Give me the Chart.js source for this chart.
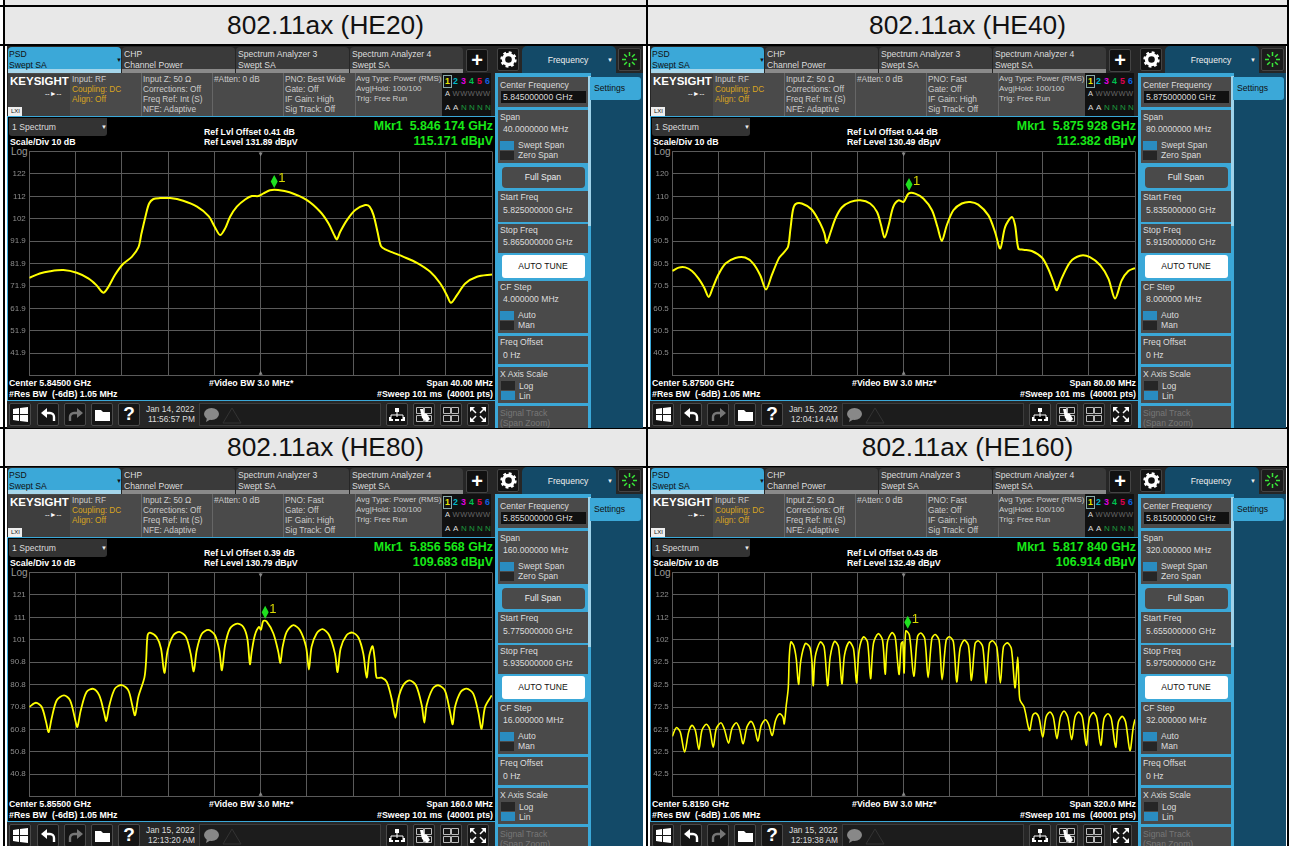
<!DOCTYPE html>
<html>
<head>
<meta charset="utf-8">
<title>802.11ax spectrum</title>
<script src="https://cdn.jsdelivr.net/npm/chart.js@4/dist/chart.umd.min.js"></script>
<style>
  html, body { margin: 0; background: #fff; overflow: hidden; }
  #page { position: relative; width: 1289px; height: 846px; overflow: hidden; font-family: "Liberation Sans", Arial, sans-serif; }
  #page div, #page canvas, #page svg { position: absolute; }
  .t { white-space: pre; line-height: 12px; color: #ddd; }
  .b { font-weight: bold; color: #fff; }
  .title { font-size: 26.3px; color: #111; text-align: center; line-height: 37px; background: #e8e8e8; }
</style>
</head>
<body>
<div id="page"></div>
<script>
const titles = ["802.11ax (HE20)", "802.11ax (HE40)", "802.11ax (HE80)", "802.11ax (HE160)"];
const centerFreq = ["5.845000000 GHz", "5.875000000 GHz", "5.855000000 GHz", "5.815000000 GHz"];
const spanFreq = ["40.0000000 MHz", "80.0000000 MHz", "160.000000 MHz", "320.000000 MHz"];
const startFreq = ["5.825000000 GHz", "5.835000000 GHz", "5.775000000 GHz", "5.655000000 GHz"];
const stopFreq = ["5.865000000 GHz", "5.915000000 GHz", "5.935000000 GHz", "5.975000000 GHz"];
const cfStep = ["4.000000 MHz", "8.000000 MHz", "16.000000 MHz", "32.000000 MHz"];
const refOffset = ["0.41", "0.44", "0.39", "0.43"];
const refLevel = [131.89, 130.49, 130.79, 132.49];
const markerText = ["5.846 174 GHz", "5.875 928 GHz", "5.856 568 GHz", "5.817 840 GHz"];
const markerFreq = [5846.174, 5875.928, 5856.568, 5817.84];
const markerLevel = [115.171, 112.382, 109.683, 106.914];
const centerText = ["Center 5.84500 GHz", "Center 5.87500 GHz", "Center 5.85500 GHz", "Center 5.8150 GHz"];
const spanText = ["Span 40.00 MHz", "Span 80.00 MHz", "Span 160.0 MHz", "Span 320.0 MHz"];
const dateText = ["Jan 14, 2022", "Jan 15, 2022", "Jan 15, 2022", "Jan 15, 2022"];
const timeText = ["11:56:57 PM", "12:04:14 AM", "12:13:20 AM", "12:19:38 AM"];
const pnoText = ["PNO: Best Wide", "PNO: Fast", "PNO: Fast", "PNO: Fast"];

const xMin = [5825, 5835, 5775, 5655];
const xMax = [5865, 5915, 5935, 5975];
const traceWidth = [2, 2, 1.8, 1.6];
const yLabels = [
  ["", "122", "112", "102", "91.9", "81.9", "71.9", "61.9", "51.9", "41.9", ""],
  ["", "120", "110", "100", "90.5", "80.5", "70.5", "60.5", "50.5", "40.5", ""],
  ["", "121", "111", "101", "90.8", "80.8", "70.8", "60.8", "50.8", "40.8", ""],
  ["", "122", "112", "102", "92.5", "82.5", "72.5", "62.5", "52.5", "42.5", ""]
];

// traces: frequency in MHz, level in dBuV
const he20Freq = [5825, 5825.9, 5826.8, 5827.95, 5829.1, 5830.1, 5830.8, 5831.4, 5831.84, 5832.4, 5833.1, 5833.86, 5834.43, 5834.7, 5835.07, 5835.36, 5835.73, 5836.3, 5837.17, 5838.3, 5839.5, 5840.5, 5841.06, 5841.5, 5841.93, 5842.36, 5842.94, 5843.66, 5844.24, 5844.8, 5845.25, 5845.8, 5846.5, 5847.5, 5849, 5850.15, 5850.87, 5851.36, 5851.59, 5851.88, 5852.46, 5853.18, 5854.04, 5854.42, 5854.76, 5855.1, 5855.4, 5855.77, 5856.49, 5857.36, 5858.51, 5859.66, 5860.53, 5861.1, 5861.45, 5861.97, 5862.69, 5863.7, 5865];
const he20Level = [75.5, 77.5, 78.5, 79, 77.8, 75.3, 72.3, 68.9, 71.5, 76.8, 81.7, 84.9, 89.1, 95.4, 103.5, 108.7, 110.7, 111.1, 111.1, 109.9, 107.3, 103.1, 98, 94.6, 97.6, 102.8, 107.3, 110.5, 112, 112, 113.2, 114.6, 114.7, 113.7, 110.2, 105, 99.8, 94.6, 92.7, 96.1, 101.3, 105.8, 108, 107.3, 103.5, 96.1, 89.7, 88.2, 86.7, 84.9, 82.2, 78.2, 73, 67.8, 64.4, 67.8, 73, 76, 77];

const he40Freq = [5835, 5836.1, 5837.25, 5838.4, 5839.55, 5840.5, 5841.3, 5842, 5843, 5844.2, 5845.9, 5847.6, 5849, 5850.2, 5851.2, 5852.2, 5853.4, 5854.2, 5855, 5855.4, 5855.85, 5856.3, 5857.4, 5859.1, 5860.6, 5861.3, 5861.7, 5862.3, 5863.2, 5864.3, 5865.8, 5867.5, 5869.2, 5870.4, 5871.1, 5871.7, 5872.4, 5873.2, 5874.1, 5875, 5875.84, 5877, 5878.4, 5879.9, 5880.85, 5881.6, 5882.46, 5883.6, 5885.05, 5886.5, 5887.9, 5889.66, 5890.8, 5891.7, 5892.54, 5893.7, 5894.27, 5894.85, 5895.7, 5897.15, 5898.9, 5900, 5900.9, 5901.47, 5902.3, 5903.8, 5905.5, 5907.2, 5909, 5910.4, 5911.55, 5912.7, 5913.85, 5915];
const he40Level = [77.2, 78.7, 78.8, 77.2, 73.8, 69.8, 65.6, 69.8, 75.7, 80.5, 83, 83.2, 80.5, 75.3, 68.9, 75.3, 82.7, 85.2, 87.9, 95.4, 104.3, 107, 107.3, 104.6, 98.3, 93.9, 89.7, 93.9, 100.6, 105.5, 108, 108.7, 107.3, 103.5, 97.6, 92.1, 97.6, 105.8, 108.7, 108, 111.7, 111.7, 109.5, 104.3, 96.8, 90.6, 97.6, 104.3, 107.3, 108, 106.8, 102, 94.6, 87.2, 96.8, 101.3, 97.6, 87.2, 86.7, 86.1, 83.2, 78.2, 72.3, 68.6, 73.8, 81.2, 84, 83.4, 79.7, 73.8, 64.9, 73, 77.2, 78.5];

const he80Freq = [5775, 5777.3, 5779.3, 5780.8, 5781.7, 5782.7, 5784.5, 5787, 5789.1, 5790.8, 5791.6, 5792.8, 5794.8, 5797.15, 5799.2, 5800.8, 5801.6, 5802.7, 5804.6, 5807, 5809.25, 5810.6, 5811.55, 5812.7, 5814.8, 5815.4, 5815.9, 5816.75, 5819, 5820.55, 5821.7, 5822.85, 5824.8, 5826.9, 5829.2, 5830.8, 5831.85, 5832.9, 5834.6, 5836.9, 5839.2, 5840.7, 5841.6, 5842.7, 5844.4, 5846.9, 5849, 5850.4, 5851.3, 5851.9, 5853, 5854.4, 5855.1, 5855.9, 5857.1, 5859.4, 5861.1, 5861.8, 5862.6, 5864, 5866.3, 5868.6, 5870.7, 5871.7, 5872.6, 5874.35, 5876.4, 5878.7, 5880.7, 5881.6, 5882.65, 5884.7, 5886.7, 5888.8, 5890.5, 5891.65, 5892.6, 5893.7, 5894.5, 5895.1, 5896.8, 5898.6, 5900.3, 5901.6, 5902.6, 5904.3, 5906.4, 5908.7, 5910.7, 5911.6, 5912.4, 5914.5, 5916.4, 5918.7, 5920.5, 5921.4, 5922.2, 5924.15, 5926.2, 5928.5, 5930.25, 5931.4, 5932.6, 5934.9];
const he80Level = [70.8, 72.7, 70.8, 64.1, 59.6, 65.6, 73.8, 76, 73.8, 65.6, 61.9, 69.3, 77.5, 78.9, 76, 68.6, 64.6, 71.6, 79, 80.6, 78.2, 71.6, 67.1, 75.3, 83.9, 91.6, 102.8, 104, 102, 96.9, 86, 96.1, 102.8, 104.3, 102, 94.6, 86.7, 96.1, 103.3, 105.2, 102.8, 96.1, 87.2, 98.3, 105.8, 108, 106.5, 101.3, 89.9, 95.4, 102.8, 106.5, 105.3, 109.2, 108.9, 103.6, 95.4, 90.5, 97.6, 104.3, 107.3, 105, 97.6, 87.5, 97.6, 103.6, 105.5, 102.8, 94.6, 86.4, 96.9, 102.8, 104, 101.8, 94.6, 83.9, 93.9, 97.9, 91.6, 83.9, 83.9, 82, 74.5, 66, 74.5, 80.5, 82.7, 80.5, 71.6, 63.8, 71.6, 79, 80.5, 78.2, 68.6, 63.1, 70.8, 77.5, 79, 76.8, 68.6, 61.1, 70.8, 76];

const he160Freq = [5655, 5657.8, 5660.5, 5663.5, 5666.3, 5668.6, 5670.9, 5673.4, 5675.5, 5678.5, 5680.8, 5683.3, 5685.4, 5688.6, 5690.9, 5693.9, 5696.2, 5699.2, 5701.5, 5704, 5706.6, 5709.4, 5711.7, 5714.2, 5716.5, 5719.3, 5721.6, 5724.1, 5726.4, 5729.2, 5731.5, 5732.4, 5733.8, 5735.2, 5735.9, 5737, 5738.9, 5740.7, 5742.3, 5743.9, 5747, 5750, 5751.5, 5752.5, 5753.8, 5757.3, 5760, 5762.4, 5764.2, 5767.2, 5769.95, 5772.3, 5774.1, 5777.3, 5780.3, 5782.4, 5784.2, 5787.2, 5790, 5792.1, 5794.1, 5797.4, 5800.4, 5802.2, 5803.8, 5806.9, 5809.1, 5810.7, 5811.9, 5813.3, 5814.4, 5815.3, 5816.5, 5819, 5822, 5824.55, 5826.85, 5829.6, 5831.9, 5834.5, 5836.8, 5839.5, 5841.6, 5844.4, 5846.7, 5849.4, 5851.7, 5854, 5856.8, 5859.8, 5861.9, 5864.4, 5866.7, 5869.7, 5872, 5874.3, 5876.6, 5879.4, 5881.9, 5884, 5886.75, 5889.5, 5892, 5893.9, 5894.8, 5895.5, 5898.3, 5902, 5904.3, 5906.3, 5908.6, 5911.2, 5913.5, 5916.2, 5918.5, 5921, 5923.4, 5925.9, 5928.5, 5931.2, 5933.5, 5936, 5938.6, 5941.3, 5943.4, 5946.2, 5948.5, 5951.3, 5953.6, 5956.3, 5958.6, 5961.6, 5963.5, 5966.2, 5968.5, 5971.5, 5973.8, 5975];
const he160Level = [59.4, 63.3, 61.3, 52.4, 61.3, 64.3, 62.1, 53.6, 62.1, 64.8, 62.8, 54.6, 62.8, 65.5, 62.8, 56.4, 62.8, 65.5, 62.8, 56.1, 63.6, 66.1, 63.6, 57.3, 64.3, 66.8, 64.8, 59.8, 66.5, 69.5, 68, 65, 73.2, 81.1, 94.8, 101.5, 100, 94.1, 82.6, 93.3, 100.8, 99.3, 93.3, 82, 94.8, 101.5, 99.3, 82, 94.8, 101.8, 99.3, 82.9, 95.6, 101.5, 98.5, 83.2, 97.8, 103.8, 101.5, 85.1, 100.8, 105.2, 102.3, 87.1, 101.5, 105.7, 103.8, 93.3, 87.1, 100.8, 101.5, 87.7, 106.4, 104.5, 86.2, 103.8, 105.5, 103, 85.6, 103, 104.8, 102.3, 84.7, 102.3, 103.8, 101.5, 83.7, 98.5, 102.3, 100, 84.4, 100.8, 102, 99.3, 83.2, 100.8, 102, 99.3, 83.2, 99.3, 101.1, 98.5, 81.1, 94.8, 81.1, 75.5, 72.5, 62.1, 68.8, 69.8, 67.7, 59.1, 68, 70.3, 68, 58.4, 68, 70.7, 68, 57.9, 68, 70.3, 68, 55.4, 67.3, 70, 67.7, 55.4, 67.3, 69.5, 67.3, 54.6, 65.8, 68.3, 65.8, 53.1, 63.5, 67];

const traceFreq = [he20Freq, he40Freq, he80Freq, he160Freq];
const traceLevel = [he20Level, he40Level, he80Level, he160Level];

const page = document.getElementById("page");

function box(x, y, w, h, bg, extra) {
  const d = document.createElement("div");
  d.style.cssText = `left:${x}px;top:${y}px;width:${w}px;height:${h}px;background:${bg};${extra || ""}`;
  page.appendChild(d);
  return d;
}

// y is the vertical middle of the text
function text(x, y, str, opts) {
  opts = opts || {};
  const d = document.createElement("div");
  d.className = "t" + (opts.bold ? " b" : "");
  d.textContent = str;
  const size = opts.size || (opts.bold ? 8.8 : 8.6);
  let css = `top:${y - 6}px;font-size:${size}px;`;
  if (opts.right !== undefined) css += `right:${1289 - opts.right}px;`;
  else if (opts.center !== undefined) css += `left:${opts.center - 60}px;width:120px;text-align:center;`;
  else css += `left:${x}px;`;
  if (opts.color) css += `color:${opts.color};`;
  d.style.cssText = css;
  page.appendChild(d);
}

function icon(x, y, w, h, inner) {
  const ns = "http://www.w3.org/2000/svg";
  const s = document.createElementNS(ns, "svg");
  s.setAttribute("viewBox", `0 0 ${w} ${h}`);
  s.style.cssText = `left:${x}px;top:${y}px;width:${w}px;height:${h}px;`;
  s.innerHTML = inner;
  page.appendChild(s);
}

function softkey(x, y, w, h) {
  box(x, y, w, h, "#4a4a4a");
}

function toggle(x, y, on) {
  box(x, y, 14, 9, on ? "#2a8cc0" : "#262626");
}

function drawPanel(i, ox, oy) {
  // whole panel
  box(7 + ox, 46 + oy, 636, 382, "#262626");
  box(517 + ox, 73 + oy, 126, 355, "#134a68");

  // tabs
  box(8 + ox, 47 + oy, 113, 26, "#3ba8d8", "border-radius:4px 4px 0 0;");
  box(8 + ox, 69 + oy, 113, 4, "#a5d5ea");
  text(9 + ox, 54 + oy, "PSD", { color: "#111" });
  text(9 + ox, 65 + oy, "Swept SA", { color: "#111" });
  text(116 + ox, 60 + oy, "▼", { size: 6, color: "#111" });
  const tabNames = ["CHP", "Spectrum Analyzer 3", "Spectrum Analyzer 4"];
  const tabSubs = ["Channel Power", "Swept SA", "Swept SA"];
  tabNames.forEach((name, k) => {
    const tx = 122 + k * 114;
    box(tx + ox, 47 + oy, 113, 26, "#3a3a3a", "border-radius:4px 4px 0 0;");
    box(tx + ox, 69 + oy, 113, 4, "#8a8a8a");
    text(tx + 2 + ox, 54 + oy, name);
    text(tx + 2 + ox, 65 + oy, tabSubs[k]);
  });
  box(466 + ox, 49 + oy, 22, 23, "#111", "border:1px solid #444;box-sizing:border-box;border-radius:2px;");
  text(0, 60 + oy, "+", { center: 477 + ox, size: 20, bold: true });
  box(497 + ox, 48 + oy, 22, 23, "#111", "border:1px solid #444;box-sizing:border-box;border-radius:2px;");
  icon(500 + ox, 51 + oy, 17, 17, '<circle cx="8.5" cy="8.5" r="5" fill="none" stroke="#fff" stroke-width="3.4"/><circle cx="8.5" cy="8.5" r="7" fill="none" stroke="#fff" stroke-width="2.4" stroke-dasharray="2.8 2.7"/>');
  box(522 + ox, 46 + oy, 94, 27, "#134a68", "border-radius:5px 5px 0 0;");
  text(0, 60 + oy, "Frequency", { center: 568 + ox, color: "#eee" });
  text(607 + ox, 60 + oy, "▼", { size: 6, color: "#eee" });
  box(618 + ox, 48 + oy, 23, 23, "#1c1c1c", "border:1px solid #444;box-sizing:border-box;border-radius:2px;");
  icon(621 + ox, 51 + oy, 17, 17, '<g stroke="#39e639" stroke-width="1.5"><path d="M8.5 1v4M8.5 12v4M1 8.5h4M12 8.5h4M3.2 3.2l2.8 2.8M11 11l2.8 2.8M3.2 13.8L6 11M11 6l2.8-2.8"/></g>');

  // meter header
  box(8 + ox, 73 + oy, 483, 43, "#4a4a4a");
  box(8 + ox, 74 + oy, 62, 42, "#3e3e3e");
  text(10 + ox, 81 + oy, "KEYSIGHT", { size: 11.5, bold: true });
  text(45 + ox, 94 + oy, "--►--", { size: 7, color: "#fff" });
  box(8 + ox, 107 + oy, 14, 9, "#eee");
  text(11 + ox, 111 + oy, "LXI", { size: 6, color: "#111" });
  [141, 212, 283, 355].forEach(cx => box(cx + ox, 73 + oy, 1, 43, "#666"));
  const rows = [79, 89, 99, 109];
  const hdr = 8.3;
  ["Input: RF", "Coupling: DC", "Align: Off"].forEach((s, k) => text(72 + ox, rows[k] + oy, s, { size: hdr, color: k ? "#d9a520" : "#ccc" }));
  ["Input Z: 50 Ω", "Corrections: Off", "Freq Ref: Int (S)", "NFE: Adaptive"].forEach((s, k) => text(143 + ox, rows[k] + oy, s, { size: hdr, color: "#ccc" }));
  text(214 + ox, rows[0] + oy, "#Atten: 0 dB", { size: hdr, color: "#ccc" });
  [pnoText[i], "Gate: Off", "IF Gain: High", "Sig Track: Off"].forEach((s, k) => text(285 + ox, rows[k] + oy, s, { size: hdr, color: "#ccc" }));
  ["Avg Type: Power (RMS)", "Avg|Hold: 100/100", "Trig: Free Run"].forEach((s, k) => text(356 + ox, rows[k] + oy, s, { size: 8, color: "#ccc" }));
  box(442 + ox, 73 + oy, 49, 43, "#111");
  box(443 + ox, 75 + oy, 9, 13, "#111", "border:1px solid #8aa;box-sizing:border-box;");
  const traceColors = ["#e6e600", "#00b8c8", "#e000e0", "#00c050", "#e00050", "#1060e0"];
  traceColors.forEach((c, k) => text(445 + k * 8 + ox, 81 + oy, String(k + 1), { color: c, bold: true }));
  ["A", "W", "W", "W", "W", "W"].forEach((s, k) => text(445 + k * 7.6 + ox, 94 + oy, s, { size: 7.5, color: k ? "#666" : "#ddd" }));
  ["A", "A", "N", "N", "N", "N"].forEach((s, k) => text(445 + k * 8 + ox, 108 + oy, s, { size: 8, color: k > 1 ? "#1c9c3c" : "#ddd" }));

  // display frame
  box(7 + ox, 116 + oy, 488, 285, "#000", "border:1px solid #3ba8d8;border-right:0;box-sizing:border-box;");
  box(9 + ox, 118 + oy, 98, 18, "#333", "border-radius:0 0 3px 3px;");
  text(12 + ox, 127 + oy, "1 Spectrum");
  text(101 + ox, 127 + oy, "▼", { size: 6, color: "#eee" });
  text(10 + ox, 142 + oy, "Scale/Div 10 dB", { bold: true });
  text(11 + ox, 152 + oy, "Log", { size: 10, color: "#999" });
  text(204 + ox, 132 + oy, `Ref Lvl Offset ${refOffset[i]} dB`, { bold: true });
  text(204 + ox, 142 + oy, `Ref Level ${refLevel[i].toFixed(2)} dBµV`, { bold: true });
  text(0, 126 + oy, `Mkr1  ${markerText[i]}`, { right: 493 + ox, size: 12.4, bold: true, color: "#18e818" });
  text(0, 141 + oy, `${markerLevel[i].toFixed(3)} dBµV`, { right: 493 + ox, size: 12.4, bold: true, color: "#18e818" });
  text(9 + ox, 383 + oy, centerText[i], { bold: true });
  text(9 + ox, 394 + oy, "#Res BW  (-6dB) 1.05 MHz", { bold: true });
  text(209 + ox, 383 + oy, "#Video BW 3.0 MHz*", { bold: true });
  text(0, 383 + oy, spanText[i], { right: 493 + ox, bold: true });
  text(0, 394 + oy, "#Sweep 101 ms  (40001 pts)", { right: 493 + ox, bold: true });

  // softkeys
  box(495 + ox, 73 + oy, 96, 355, "#3ba8d8");
  box(588 + ox, 76 + oy, 3, 150, "#9fd3ea");
  box(590 + ox, 77 + oy, 51, 23, "#3ba8d8", "border-radius:0 3px 3px 0;");
  text(594 + ox, 88 + oy, "Settings", { color: "#111" });
  softkey(498 + ox, 77 + oy, 90, 30);
  text(500 + ox, 85 + oy, "Center Frequency");
  box(501 + ox, 91 + oy, 85, 12, "#111");
  text(503 + ox, 97 + oy, centerFreq[i]);
  softkey(498 + ox, 110 + oy, 90, 53);
  text(500 + ox, 117 + oy, "Span");
  text(503 + ox, 129 + oy, spanFreq[i]);
  toggle(500 + ox, 141 + oy, true);
  toggle(500 + ox, 151 + oy, false);
  text(518 + ox, 145 + oy, "Swept Span");
  text(518 + ox, 155 + oy, "Zero Span");
  box(502 + ox, 167 + oy, 83, 21, "#4a4a4a", "border-radius:4px;");
  text(0, 177 + oy, "Full Span", { center: 543 + ox, color: "#eee" });
  softkey(498 + ox, 191 + oy, 90, 31);
  text(500 + ox, 197 + oy, "Start Freq");
  text(503 + ox, 210 + oy, startFreq[i]);
  softkey(498 + ox, 224 + oy, 90, 29);
  text(500 + ox, 230 + oy, "Stop Freq");
  text(503 + ox, 242 + oy, stopFreq[i]);
  box(502 + ox, 255 + oy, 83, 23, "#fff", "border-radius:3px;");
  text(0, 266 + oy, "AUTO TUNE", { center: 543 + ox, color: "#111" });
  softkey(498 + ox, 281 + oy, 90, 52);
  text(500 + ox, 287 + oy, "CF Step");
  text(503 + ox, 299 + oy, cfStep[i]);
  toggle(500 + ox, 311 + oy, true);
  toggle(500 + ox, 321 + oy, false);
  text(518 + ox, 315 + oy, "Auto");
  text(518 + ox, 325 + oy, "Man");
  softkey(498 + ox, 336 + oy, 90, 28);
  text(500 + ox, 342 + oy, "Freq Offset");
  text(503 + ox, 355 + oy, "0 Hz");
  softkey(498 + ox, 367 + oy, 90, 36);
  text(500 + ox, 374 + oy, "X Axis Scale");
  toggle(501 + ox, 381 + oy, false);
  toggle(501 + ox, 391 + oy, true);
  text(519 + ox, 386 + oy, "Log");
  text(519 + ox, 396 + oy, "Lin");
  softkey(498 + ox, 406 + oy, 90, 22);
  text(500 + ox, 413 + oy, "Signal Track", { color: "#777" });
  text(500 + ox, 423 + oy, "(Span Zoom)", { color: "#777" });

  // bottom toolbar
  [9, 37, 64, 91, 118].forEach(bx => box(bx + ox, 403 + oy, 22, 23, "#151515", "border:1px solid #4a4a4a;box-sizing:border-box;border-radius:2px;"));
  icon(13 + ox, 407 + oy, 15, 15, '<path fill="#fff" d="M0 2l6-1v6H0zM7 1l8-1v7H7zM0 8h6v6l-6-1zM7 8h8v7l-8-1z"/>');
  icon(41 + ox, 407 + oy, 15, 15, '<path fill="none" stroke="#fff" stroke-width="2.4" d="M3 6h6a4 4 0 0 1 4 4v4"/><path fill="#fff" d="M0 6l6-5v10z"/>');
  icon(68 + ox, 407 + oy, 15, 15, '<path fill="none" stroke="#777" stroke-width="2.4" d="M12 6H6a4 4 0 0 0-4 4v4"/><path fill="#777" d="M15 6l-6-5v10z"/>');
  icon(95 + ox, 407 + oy, 15, 15, '<path fill="#fff" d="M0 3h6l2 2h7v9H0z"/>');
  text(0, 414 + oy, "?", { center: 129 + ox, size: 19, bold: true });
  text(146 + ox, 409 + oy, dateText[i], { size: 8.4 });
  text(148 + ox, 419 + oy, timeText[i], { size: 8.4 });
  box(199 + ox, 403 + oy, 182, 23, "#1c1c1c", "border:1px solid #3c3c3c;box-sizing:border-box;");
  icon(202 + ox, 405 + oy, 40, 19, '<ellipse cx="9.5" cy="9" rx="7.5" ry="6" fill="#888"/><path d="M5 13l-1 4 5-3z" fill="#888"/><path d="M21 18L30 3l9 15z" fill="none" stroke="#333"/>');
  [386, 413, 440, 467].forEach(bx => box(bx + ox, 403 + oy, 22, 23, "#151515", "border:1px solid #4a4a4a;box-sizing:border-box;border-radius:2px;"));
  icon(389 + ox, 407 + oy, 16, 15, '<path fill="#fff" d="M6 1h4v4H6zM0 10h4v4H0zM6 10h4v4H6zM12 10h4v4h-4z"/><path stroke="#fff" d="M2 12V8h12v4M8 5v5"/>');
  icon(416 + ox, 407 + oy, 16, 15, '<path fill="none" stroke="#bbb" d="M.5.5h7v6h-7zM8.5.5h7v6h-7zM.5 8.5h7v6h-7zM8.5 8.5h7v6h-7z"/><path fill="#fff" d="M4 2l3 0 1 4 3 1 3 5-3 3-5-4z"/>');
  icon(443 + ox, 407 + oy, 16, 15, '<path fill="none" stroke="#bbb" d="M.5.5h7v6h-7zM8.5.5h7v6h-7zM.5 8.5h7v6h-7zM8.5 8.5h7v6h-7z"/>');
  icon(470 + ox, 407 + oy, 16, 15, '<path stroke="#fff" stroke-width="1.5" d="M2 2l4 4M14 2l-4 4M2 13l4-4M14 13l-4-4"/><path fill="#fff" d="M0 0h5L0 5zM16 0h-5l5 5zM0 15h5l-5-5zM16 15h-5l5-5z"/>');

  drawChart(i, ox, oy);
}

// green marker diamond and the little centre triangles, placed through the scales
const markerPlugin = {
  id: "marker",
  afterDatasetsDraw(chart, args, opts) {
    const { ctx, chartArea, scales } = chart;
    const mx = scales.x.getPixelForValue(opts.freq);
    const my = scales.y.getPixelForValue(opts.level);
    const cx = (chartArea.left + chartArea.right) / 2;
    ctx.save();
    ctx.fillStyle = "#888";
    ctx.beginPath();
    ctx.moveTo(cx - 2, chartArea.top + 1);
    ctx.lineTo(cx + 2, chartArea.top + 1);
    ctx.lineTo(cx, chartArea.top + 5);
    ctx.moveTo(cx - 2, chartArea.bottom - 1);
    ctx.lineTo(cx + 2, chartArea.bottom - 1);
    ctx.lineTo(cx, chartArea.bottom - 5);
    ctx.fill();
    ctx.fillStyle = "#1fe01f";
    ctx.beginPath();
    ctx.moveTo(mx, my - 14);
    ctx.lineTo(mx + 3.5, my - 7.5);
    ctx.lineTo(mx, my - 1);
    ctx.lineTo(mx - 3.5, my - 7.5);
    ctx.fill();
    ctx.fillStyle = "#d8d800";
    ctx.font = "13px 'Liberation Sans', Arial, sans-serif";
    ctx.textBaseline = "alphabetic";
    ctx.fillText("1", mx + 4, my - 7);
    ctx.restore();
  }
};

function drawChart(i, ox, oy) {
  const cv = document.createElement("canvas");
  cv.width = 486;
  cv.height = 236;
  cv.style.cssText = `left:${8 + ox}px;top:${146 + oy}px;width:486px;height:236px;`;
  page.appendChild(cv);

  const ref = refLevel[i];
  const yTicks = yLabels[i].map((_, k) => ref - k * 10);
  const divs = [0, 1, 2, 3, 4, 5, 6, 7, 8, 9, 10];
  const xTicks = divs.map(k => xMin[i] + (xMax[i] - xMin[i]) * k / 10);

  new Chart(cv, {
    type: "line",
    plugins: [markerPlugin],
    data: {
      datasets: [{
        data: traceFreq[i].map((f, k) => ({ x: f, y: traceLevel[i][k] })),
        borderColor: "#ffff00",
        borderWidth: traceWidth[i],
        pointRadius: 0,
        tension: 0.3
      }]
    },
    options: {
      responsive: false,
      animation: false,
      layout: { padding: { top: 5.5, right: 2, bottom: 6.3, left: 0 } },
      plugins: {
        legend: { display: false },
        tooltip: { enabled: false },
        marker: { freq: markerFreq[i], level: markerLevel[i] }
      },
      scales: {
        x: {
          type: "linear",
          min: xMin[i],
          max: xMax[i],
          afterBuildTicks: ax => { ax.ticks = xTicks.map(v => ({ value: v })); },
          afterFit: ax => { ax.height = 0; },
          ticks: { display: false },
          grid: { color: "#5a5a5a", drawTicks: false },
          border: { color: "#5a5a5a" }
        },
        y: {
          min: ref - 100,
          max: ref,
          afterBuildTicks: ax => { ax.ticks = yTicks.map(v => ({ value: v })); },
          afterFit: ax => { ax.width = 21.3; },
          ticks: {
            autoSkip: false,
            color: "#8c8c8c",
            padding: 3.5,
            // zero line height so the labels add no padding above and below the plot
            font: { size: 8, lineHeight: 0, family: "'Liberation Sans', Arial, sans-serif" },
            callback: (v, k) => yLabels[i][k]
          },
          grid: { color: "#5a5a5a", drawTicks: false },
          border: { color: "#5a5a5a" }
        }
      }
    }
  });
}

// table lines and title cells
box(0, 0, 1289, 846, "#fff");
box(3, 0, 644, 5, "#e8e8e8");
box(648, 0, 639, 5, "#e8e8e8");
[[5, 7, 641], [648, 7, 639], [5, 429, 641], [648, 429, 639]].forEach((c, i) => {
  const d = box(c[0], c[1], c[2], 37, "#e8e8e8");
  d.className = "title";
  d.textContent = titles[i];
});
box(0, 5, 1289, 2, "#000");
box(0, 44, 1289, 2, "#000");
box(0, 427, 1289, 2, "#000");
box(0, 466, 1289, 2, "#000");
box(3, 0, 2, 846, "#000");
box(646, 0, 2, 846, "#000");
box(1287, 0, 2, 846, "#000");

drawPanel(0, 0, 0);
drawPanel(1, 643, 0);
drawPanel(2, 0, 421);
drawPanel(3, 643, 421);
</script>
</body>
</html>
